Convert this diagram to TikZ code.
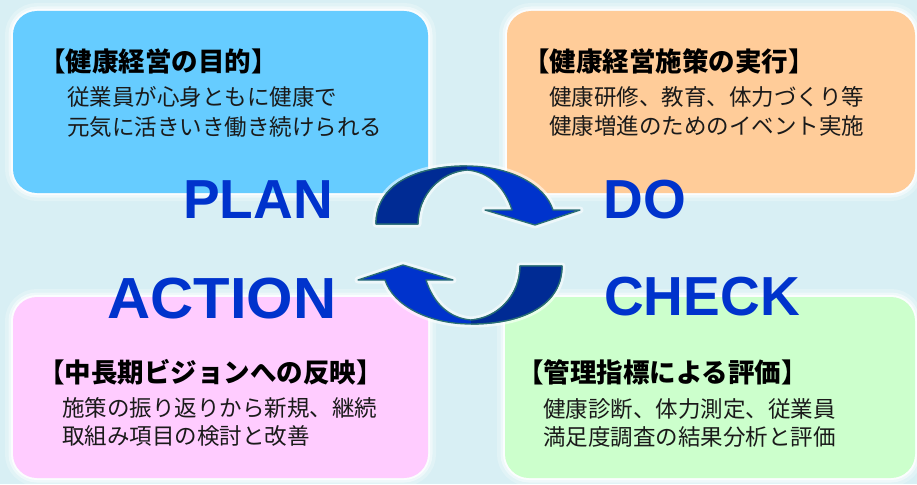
\documentclass[tikz,border=0pt]{standalone}
\usepackage{fontspec}
\setmainfont{Liberation Sans}
\newfontfamily\jp{Noto Sans CJK JP}
\newfontfamily\lat{Liberation Sans}
\definecolor{bgc}{HTML}{D8EFF4}
\definecolor{bluebox}{HTML}{66CCFF}
\definecolor{orangebox}{HTML}{FFCC99}
\definecolor{pinkbox}{HTML}{FFCCFF}
\definecolor{greenbox}{HTML}{CCFFCC}
\definecolor{pdcablue}{HTML}{0033CC}
\definecolor{arrowdark}{HTML}{002B94}
\definecolor{arrowedge}{HTML}{2A6E74}
\definecolor{bodytext}{HTML}{1A1A1A}
\begin{document}
\begin{tikzpicture}[x=1pt,y=-1pt,
  card/.style={rounded corners=24pt},
  titletext/.style={anchor=base west,inner sep=0pt,font=\jp\bfseries\fontsize{26.5}{30}\selectfont,text=black},
  bodyline/.style={anchor=base west,inner sep=0pt,font=\jp\fontsize{22.5}{26}\selectfont,text=bodytext},
  bigword/.style={inner sep=0pt,font=\lat\bfseries\fontsize{55}{60}\selectfont,text=pdcablue},
  actionword/.style={bigword,font=\lat\bfseries\fontsize{58}{62}\selectfont,xscale=1.03},
  arrowbody/.style={fill=pdcablue,draw=arrowedge,line width=1.3pt,line join=round},
  arrowback/.style={fill=arrowdark},
  arrowglow/.style={draw=white,opacity=0.55,line width=7pt,line join=round}
]
\fill[bgc] (0,0) rectangle (917,484);
\useasboundingbox (0,0) rectangle (917,484);

% glow behind cards
\foreach \bx/\by/\ex/\ey in {13/11/428/193, 507/11/915/193, 13/297/428/478, 505/297/915/478}{
  \draw[card,white,opacity=0.25,line width=16pt] (\bx,\by) rectangle (\ex,\ey);
  \draw[card,white,opacity=0.45,line width=9pt] (\bx,\by) rectangle (\ex,\ey);
  \draw[card,white,opacity=0.8,line width=4pt] (\bx,\by) rectangle (\ex,\ey);
}
\fill[card,bluebox] (13,11) rectangle (428,193);
\fill[card,orangebox] (507,11) rectangle (915,193);
\fill[card,pinkbox] (13,297) rectangle (428,478);
\fill[card,greenbox] (505,297) rectangle (915,478);

% texts
\node[titletext] (t1) at (39,72) {【健康経営の目的】};
\node[bodyline] (b1a) at (67,105.5) {従業員が心身ともに健康で};
\node[bodyline] (b1b) at (67,135.5) {元気に活きいき働き続けられる};

\node[titletext] (t2) at (523,72) {【健康経営施策の実行】};
\node[bodyline] (b2a) at (549,105.5) {健康研修、教育、体力づくり等};
\node[bodyline] (b2b) at (549,134.5) {健康増進のためのイベント実施};

\node[titletext] (t3) at (38,382) {【中長期ビジョンへの反映】};
\node[bodyline] (b3a) at (62,416.5) {施策の振り返りから新規、継続};
\node[bodyline] (b3b) at (62,444) {取組み項目の検討と改善};

\node[titletext] (t4) at (517,382) {【管理指標による評価】};
\node[bodyline] (b4a) at (543,417.5) {健康診断、体力測定、従業員};
\node[bodyline] (b4b) at (543,445.5) {満足度調査の結果分析と評価};

% big words
\node[bigword] (plan) at (258,200) {PLAN};
\node[bigword] (do) at (645,200) {DO};
\node[actionword] (action) at (222,299) {ACTION};
\node[bigword] (check) at (702,297) {CHECK};

% cycle arrows
\foreach \rot in {0,180}{
\begin{scope}[rotate around={\rot:(469,245)}]
  \path[arrowglow] (376,224) .. controls (376,185) and (415,166) .. (467,166)
     .. controls (510,166) and (545,185) .. (553,210)
     -- (580,210) -- (535,225) -- (485,210) -- (512,210)
     .. controls (505,188) and (490,172) .. (467,170)
     .. controls (440,172) and (418,195) .. (418,224) -- cycle;
  \path[arrowbody] (376,224) .. controls (376,185) and (415,166) .. (467,166)
     .. controls (510,166) and (545,185) .. (553,210)
     -- (580,210) -- (535,225) -- (485,210) -- (512,210)
     .. controls (505,188) and (490,172) .. (467,170)
     .. controls (440,172) and (418,195) .. (418,224) -- cycle;
  \path[arrowback] (376,224) .. controls (376,185) and (415,166) .. (467,166)
     -- (467,170) .. controls (440,172) and (418,195) .. (418,224) -- cycle;
  \draw[arrowedge,line width=1.3pt,line join=round] (376,224) .. controls (376,185) and (415,166) .. (467,166);
  \draw[arrowedge,line width=1.3pt,line join=round] (467,170) .. controls (440,172) and (418,195) .. (418,224) -- (376,224);
\end{scope}
}
\end{tikzpicture}
\end{document}
